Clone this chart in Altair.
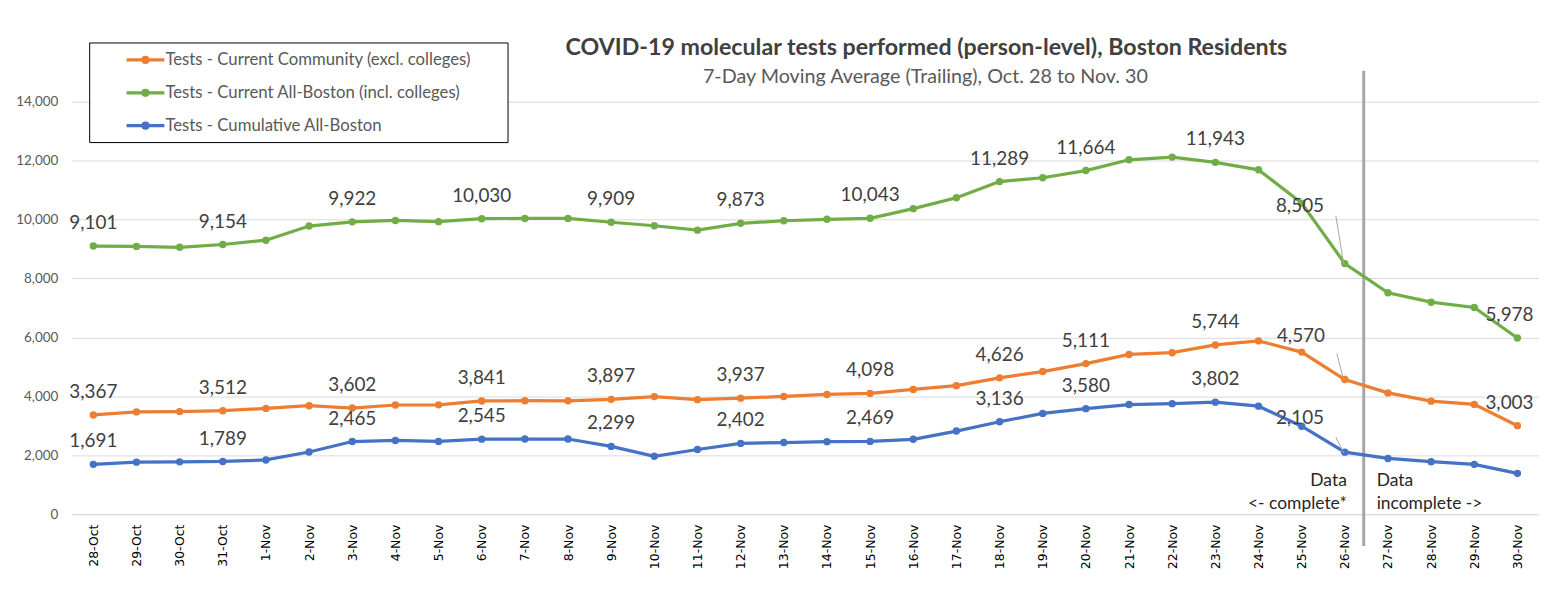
import altair as alt
import pandas as pd

dates = ["28-Oct", "29-Oct", "30-Oct", "31-Oct", "1-Nov", "2-Nov", "3-Nov", "4-Nov",
         "5-Nov", "6-Nov", "7-Nov", "8-Nov", "9-Nov", "10-Nov", "11-Nov", "12-Nov",
         "13-Nov", "14-Nov", "15-Nov", "16-Nov", "17-Nov", "18-Nov", "19-Nov", "20-Nov",
         "21-Nov", "22-Nov", "23-Nov", "24-Nov", "25-Nov", "26-Nov", "27-Nov", "28-Nov",
         "29-Nov", "30-Nov"]

community = [3367, 3470, 3480, 3512, 3590, 3680, 3602, 3705, 3710, 3841, 3850, 3845,
             3897, 3990, 3887, 3937, 3995, 4062, 4098, 4233, 4360, 4626, 4840, 5111,
             5420, 5480, 5744, 5880, 5500, 4570, 4115, 3835, 3725, 3003]

all_boston = [9101, 9090, 9060, 9154, 9300, 9780, 9922, 9970, 9930, 10030, 10040, 10040,
              9909, 9790, 9640, 9873, 9960, 10010, 10043, 10370, 10740, 11289, 11420, 11664,
              12030, 12120, 11943, 11690, 10560, 8505, 7515, 7195, 7015, 5978]

cumulative = [1691, 1765, 1775, 1789, 1840, 2110, 2465, 2500, 2470, 2545, 2550, 2550,
              2299, 1965, 2195, 2402, 2430, 2460, 2469, 2540, 2820, 3136, 3420, 3580,
              3720, 3750, 3802, 3665, 2985, 2105, 1890, 1780, 1690, 1385]

series_names = ["Tests - Current Community (excl. colleges)",
                "Tests - Current All-Boston (incl. colleges)",
                "Tests - Cumulative All-Boston"]
series_colors = ["#ED7D31", "#70AD47", "#4472C4"]

labelled_dates = ["28-Oct", "31-Oct", "3-Nov", "6-Nov", "9-Nov", "12-Nov", "15-Nov",
                  "18-Nov", "20-Nov", "23-Nov", "26-Nov", "30-Nov"]
unlabelled = [("Tests - Cumulative All-Boston", "30-Nov")]

y_ticks = [0, 2000, 4000, 6000, 8000, 10000, 12000, 14000]

title_text = "COVID-19 molecular tests performed (person-level), Boston Residents"
subtitle_text = "7-Day Moving Average (Trailing), Oct. 28 to Nov. 30"
note_left = ["Data", "<- complete*"]
note_right = ["Data", "incomplete ->"]
split_date = "26-Nov"

# ---- tables
rows = []
for name, vals in zip(series_names, [community, all_boston, cumulative]):
    for d, v in zip(dates, vals):
        rows.append({"date": d, "series": name, "value": v})
df = pd.DataFrame(rows)

lab = df[df["date"].isin(labelled_dates)].copy()
for s, d in unlabelled:
    lab = lab[~((lab["series"] == s) & (lab["date"] == d))]

x_scale = alt.Scale(type="point", domain=dates, padding=0.5)
y_scale = alt.Scale(domain=[0, 14000], nice=False)

X = alt.X("date:O", scale=x_scale, axis=alt.Axis(
    title=None, labelAngle=270, labelFont="DejaVu Sans", labelFontSize=12.5,
    labelColor="#000000", labelPadding=10, ticks=False, domain=True,
    domainColor="#D9D9D9", domainWidth=1, grid=False))
Y = alt.Y("value:Q", scale=y_scale, axis=alt.Axis(
    title=None, values=y_ticks, format=",.0f",
    labelFont="Lato", labelFontSize=13.5, labelColor="#595959", labelPadding=14,
    ticks=False, domain=False, grid=True, gridColor="#D9D9D9", gridWidth=1))

legend_path = ("M-1.9,0L1.9,0M-0.25,0A0.25,0.25,0,1,0,0.25,0"
               "A0.25,0.25,0,1,0,-0.25,0Z")

one = pd.DataFrame({"k": [0]})

frame = alt.Chart(one).mark_rect(fill="white", stroke="black", strokeWidth=1).encode(
    x=alt.value(18), x2=alt.value(438), y=alt.value(-59), y2=alt.value(41))

lines = alt.Chart(df).mark_line(
    strokeWidth=3.25, point=alt.OverlayMarkDef(size=55, filled=True, opacity=1)
).encode(
    x=X, y=Y,
    color=alt.Color("series:N", scale=alt.Scale(domain=series_names, range=series_colors),
                    legend=alt.Legend(title=None, orient="none", legendX=62, legendY=-54,
                                      symbolType=legend_path, symbolSize=400,
                                      symbolStrokeWidth=3.25, symbolOpacity=1,
                                      labelFont="Lato", labelFontSize=16.8,
                                      labelColor="#595959", labelOffset=8,
                                      labelLimit=0, rowPadding=12, padding=0)),
    order=alt.Order("date_idx:Q"),
).transform_calculate(date_idx="indexof(" + str(dates) + ", datum.date)")

label_style = dict(font="Lato", fontSize=19, color="#404040", baseline="middle")

gen_labels = alt.Chart(lab).transform_filter(
    (alt.datum.date != split_date) & (alt.datum.date != "30-Nov")
).mark_text(dy=-23, **label_style).encode(
    x=X, y=Y, text=alt.Text("value:Q", format=","))

end_labels = alt.Chart(lab).transform_filter(alt.datum.date == "30-Nov").mark_text(
    dy=-23, dx=-8, **label_style).encode(x=X, y=Y, text=alt.Text("value:Q", format=","))

split_layers = []
for s, ldx, ldy, sdx, sdy in [(series_names[1], -45, -58, -9, -48),
                              (series_names[0], -44, -44, -8, -26),
                              (series_names[2], -45, -34, -9, -15)]:
    base = alt.Chart(lab).transform_filter(
        (alt.datum.date == split_date) & (alt.datum.series == s))
    split_layers.append(base.mark_rule(color="#A6A6A6", strokeWidth=1, xOffset=sdx,
                                       yOffset=sdy, x2Offset=-1, y2Offset=1).encode(
        x=X, x2=alt.X2("date:O"), y=Y, y2=alt.Y2("value:Q")))
    split_layers.append(base.mark_text(dx=ldx, dy=ldy, **label_style).encode(
        x=X, y=Y, text=alt.Text("value:Q", format=",")))

split_df = pd.DataFrame({"date": [split_date]})
split_rule = alt.Chart(split_df).mark_rule(color="#A6A6A6", strokeWidth=3, xOffset=19).encode(
    x=X, y=alt.value(-31), y2=alt.value(446))

note_l = alt.Chart(split_df).mark_text(
    text=note_left, align="right", baseline="middle", font="Lato", fontSize=17.5,
    color="#262626", lineHeight=23, dx=2).encode(x=X, y=alt.value(381))
note_r = alt.Chart(split_df).mark_text(
    text=note_right, align="left", baseline="middle", font="Lato", fontSize=17.5,
    color="#262626", lineHeight=23, dx=32).encode(x=X, y=alt.value(381))

title = alt.Chart(one).mark_text(
    text=title_text, font="Lato", fontSize=23.3, fontWeight="bold", color="#404040",
    align="center", baseline="middle").encode(x=alt.value(858), y=alt.value(-54))
subtitle = alt.Chart(one).mark_text(
    text=subtitle_text, font="Lato", fontSize=19.8, color="#595959",
    align="center", baseline="middle").encode(x=alt.value(857), y=alt.value(-25))

chart = alt.layer(
    frame, split_rule, lines, gen_labels, end_labels, *split_layers,
    note_l, note_r, title, subtitle
).properties(
    width=1473, height=414,
    autosize=alt.AutoSizeParams(type="none"),
    padding={"left": 64, "top": 93, "right": 0, "bottom": 62},
).configure_view(stroke=None)

chart.save("out.html", embed_options={"renderer": "svg", "actions": False})
